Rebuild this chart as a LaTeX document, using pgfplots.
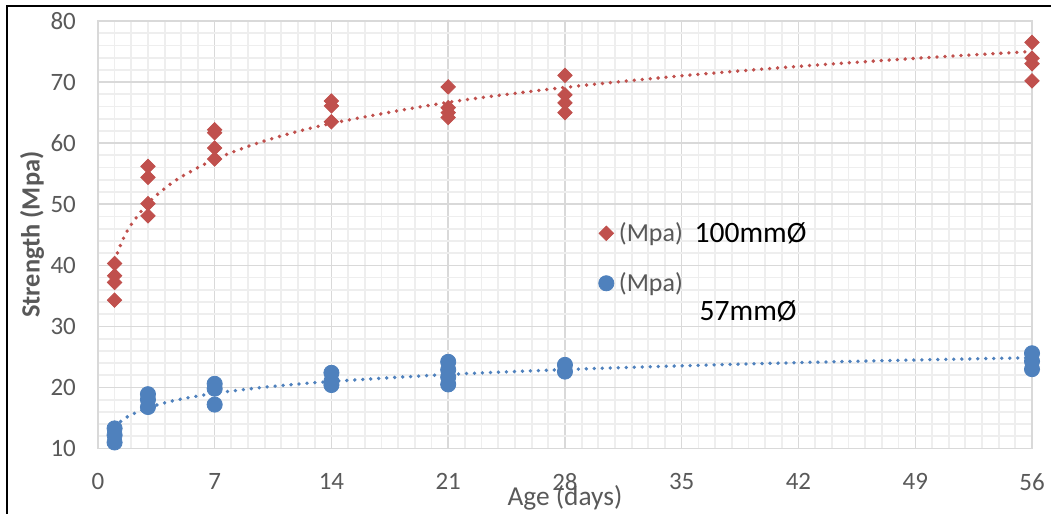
\documentclass[border=0pt]{standalone}
\usepackage{pgfplots}
\pgfplotsset{compat=1.18}
\usepackage{fontspec}
\setmainfont{Carlito}
\definecolor{cred}{HTML}{C0504D}
\definecolor{cblue}{HTML}{4F81BD}
\definecolor{txtgray}{HTML}{595959}
\definecolor{majgrid}{HTML}{D9D9D9}
\definecolor{mingrid}{HTML}{EEEEEE}
\pgfplotsset{pointlegend/.style={legend image code/.code={\draw[##1] plot coordinates {(0pt,0pt)};}}}
\begin{document}
\begin{tikzpicture}
\path (-49pt,-32.5pt) rectangle (477pt,224.5pt);
\draw[line width=1pt] (-45.5pt,-32.5pt) -- (-45.5pt,221.5pt) -- (477pt,221.5pt);
\begin{axis}[
	scale only axis,
	width=467.5pt,
	height=214pt,
	xmin=0, xmax=56,
	ymin=10, ymax=80,
	xtick={0,7,...,56},
	ytick={10,20,...,80},
	minor x tick num=6,
	minor y tick num=4,
	major tick length=0pt,
	minor tick length=0pt,
	grid=both,
	major grid style={majgrid, line width=0.75pt},
	minor grid style={mingrid, line width=0.9pt},
	axis line style={majgrid, line width=0.75pt},
	clip=false,
	/pgf/number format/assume math mode=true,
	tick label style={font=\fontsize{12.5}{14}\selectfont, text=txtgray},
	xticklabel style={yshift=-9pt},
	yticklabel style={xshift=-7.5pt},
	xlabel={Age (days)},
	xlabel style={font=\fontsize{13.7}{16}\selectfont, text=txtgray, at={(axis description cs:0.5,0)}, anchor=center, yshift=-24.5pt},
	ylabel={Strength (Mpa)},
	ylabel style={font=\bfseries\fontsize{13.2}{15}\selectfont, text=txtgray, at={(axis description cs:0,0.5)}, anchor=center, yshift=33pt},
	legend style={at={(axis cs:30.0,41.15)}, anchor=west, draw=none, fill=none,
		font=\fontsize{13}{15}\selectfont, text=txtgray, row sep=9pt,
		inner sep=0pt, nodes={inner sep=2.5pt}},
	legend cell align=left,
]
\addplot[cred, line width=1.9pt, dash pattern=on 0pt off 4pt, line cap=round, smooth, forget plot] coordinates {
	(1,40.8) (1.5,44.24) (2,46.69) (3,50.14) (4,52.58) (5,54.48) (7,57.34) (10,60.38)
	(14,63.23) (21,66.68) (28,69.12) (35,71.02) (42,72.57) (49,73.88) (56,75.01)
};
\addplot[cblue, line width=1.9pt, dash pattern=on 0pt off 4pt, line cap=round, smooth, forget plot] coordinates {
	(1,13.6) (1.5,14.73) (2,15.54) (3,16.68) (4,17.48) (5,18.11) (7,19.05) (10,20.05)
	(14,20.99) (21,22.13) (28,22.93) (35,23.55) (42,24.07) (49,24.50) (56,24.87)
};
\addplot[only marks, mark=square*, mark size=2.55pt, mark options={rotate=45, draw=cred, fill=cred}, pointlegend] coordinates {
	(1,40.3) (1,38.3) (1,37.2) (1,34.3)
	(3,56.2) (3,54.4) (3,50.1) (3,48.1)
	(7,62.2) (7,61.7) (7,59.2) (7,57.4)
	(14,66.9) (14,66.1) (14,63.5)
	(21,69.2) (21,65.8) (21,65.0) (21,64.2)
	(28,71.1) (28,67.9) (28,66.6) (28,65.0)
	(56,76.5) (56,73.9) (56,73.0) (56,70.2)
};
\addlegendentry{(Mpa)}
\addplot[only marks, mark=*, mark size=3.8pt, mark options={draw=cblue, fill=cblue}, pointlegend] coordinates {
	(1,13.3) (1,12.2) (1,11.0)
	(3,18.9) (3,18.0) (3,16.8)
	(7,20.6) (7,19.8) (7,17.2)
	(14,22.4) (14,21.0) (14,20.4)
	(21,24.2) (21,22.9) (21,21.7) (21,20.5)
	(28,23.7) (28,22.6)
	(56,25.6) (56,24.3) (56,23.0)
};
\addlegendentry{(Mpa)}
\node[anchor=west, inner sep=0pt, font=\fontsize{14.8}{17}\selectfont] at (axis cs:35.75,45.3) {100mmØ};
\node[anchor=west, inner sep=0pt, font=\fontsize{14.8}{17}\selectfont] at (axis cs:36.05,32.4) {57mmØ};
\end{axis}
\end{tikzpicture}
\end{document}
